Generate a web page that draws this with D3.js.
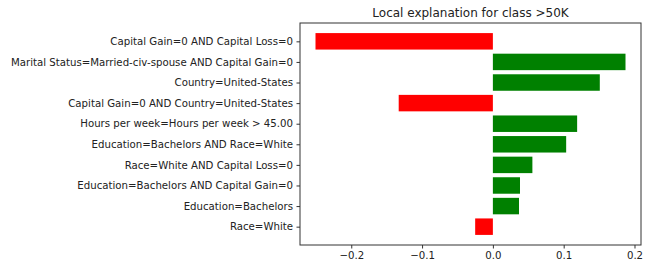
<!DOCTYPE html>
<html>
<head>
<meta charset="utf-8">
<script src="https://cdn.jsdelivr.net/npm/d3@7"></script>
<style>
  body { margin: 0; background: #fff; }
  text { font-family: "DejaVu Sans", sans-serif; fill: #222; }
</style>
</head>
<body>
<div id="chart"></div>
<script>
// features, top to bottom, and their weights
var features = [
  "Capital Gain=0 AND Capital Loss=0",
  "Marital Status=Married-civ-spouse AND Capital Gain=0",
  "Country=United-States",
  "Capital Gain=0 AND Country=United-States",
  "Hours per week=Hours per week > 45.00",
  "Education=Bachelors AND Race=White",
  "Race=White AND Capital Loss=0",
  "Education=Bachelors AND Capital Gain=0",
  "Education=Bachelors",
  "Race=White"
];
var weights = [-0.2505, 0.1873, 0.151, -0.133, 0.119, 0.1035, 0.0558, 0.0383, 0.0369, -0.025];
var xTicks = [-0.2, -0.1, 0.0, 0.1, 0.2];
var title = "Local explanation for class >50K";

var width = 652, height = 268;
var margin = {top: 23, right: 11, bottom: 23, left: 300};
var w = width - margin.left - margin.right,
    h = height - margin.top - margin.bottom;

var svg = d3.select("#chart").append("svg")
  .attr("width", width)
  .attr("height", height);

var g = svg.append("g")
  .attr("transform", "translate(" + margin.left + "," + margin.top + ")");

// x domain with matplotlib-like 5% padding
var lo = d3.min(weights), hi = d3.max(weights), pad = (hi - lo) * 0.05;
var x = d3.scaleLinear().domain([lo - pad, hi + pad]).range([0, w]);

// bar index 0 is at top; matplotlib puts them at y=n-1..0 with height 0.8
var n = features.length;
var y = d3.scaleLinear().domain([n - 1 + 0.4 + 0.49, -0.4 - 0.49]).range([0, h]);

g.selectAll("rect.bar")
  .data(weights)
  .enter().append("rect")
  .attr("class", "bar")
  .attr("x", function(d) { return x(Math.min(0, d)); })
  .attr("width", function(d) { return Math.abs(x(d) - x(0)); })
  .attr("y", function(d, i) { return y(n - 1 - i + 0.4); })
  .attr("height", function(d, i) { return y(n - 1 - i - 0.4) - y(n - 1 - i + 0.4); })
  .style("fill", function(d) { return d > 0 ? "green" : "red"; });

// y axis with feature names
var yAxis = d3.axisLeft(y)
  .tickValues(d3.range(n))
  .tickFormat(function(v) { return features[n - 1 - v]; })
  .tickSize(3.5)
  .tickPadding(3.5);

g.append("g")
  .call(yAxis)
  .call(function(s) { s.select(".domain").remove(); })
  .selectAll("text").style("font-size", "10.2px").style("fill", "#222");

// x axis
var xAxis = d3.axisBottom(x)
  .tickValues(xTicks)
  .tickFormat(function(v) { return d3.format(".1f")(v).replace("-", "\u2212"); })
  .tickSize(3.5)
  .tickPadding(3.5);

g.append("g")
  .attr("transform", "translate(0," + h + ")")
  .call(xAxis)
  .call(function(s) { s.select(".domain").remove(); })
  .selectAll("text").style("font-size", "10.2px").style("fill", "#222");

g.selectAll(".tick line").style("stroke", "#333");

// frame
g.append("rect")
  .attr("width", w)
  .attr("height", h)
  .style("fill", "none")
  .style("stroke", "#333")
  .style("stroke-width", 1);

// title
svg.append("text")
  .attr("x", margin.left + w / 2)
  .attr("y", margin.top - 6)
  .style("text-anchor", "middle")
  .style("font-size", "12px")
  .text(title);
</script>
</body>
</html>
